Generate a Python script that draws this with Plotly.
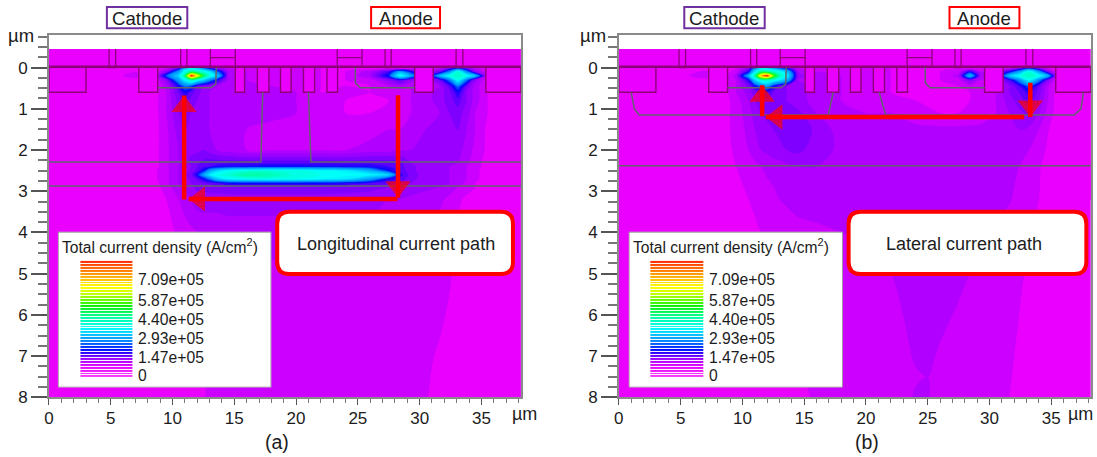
import plotly.graph_objects as go

W, H = 1097, 457

# ---- device geometry in micrometres
trenches = [(0, 3.0), (7.27, 8.8), (15.08, 15.83), (16.87, 17.8), (18.74, 19.6),
            (20.6, 21.5), (22.5, 23.36), (29.6, 31.1), (35.36, 38.2)]
contacts = [(4.87, 5.4), (10.66, 11.16), (27.2, 27.7), (32.95, 33.5)]
plates = [(13.06, 15.08), (23.33, 25.34)]
junction_x_common = [[8.8, 13.1, 13.5, 13.55], [24.8, 24.8, 25.2, 29.6]]
junction_y_common = [[0.49, 0.49, 0.4, 0.0], [0.0, 0.37, 0.49, 0.49]]
junction_x_a = [[17.3, 17.15, 0], [21.0, 21.2, 38.2], [0, 38.2]]
junction_y_a = [[0.6, 2.29, 2.29], [0.6, 2.29, 2.29], [2.87, 2.87]]
junction_x_b = [[1.0, 1.25, 1.65, 16.95, 17.35], [21.06, 21.6, 36.85, 37.4, 37.6], [0, 38.2]]
junction_y_b = [[0.6, 1.0, 1.15, 1.15, 0.6], [0.6, 1.15, 1.15, 1.0, 0.6], [2.38, 2.38]]

# ---- total current density, units of 1e5 A/cm2
xs_a = [0, 4, 7, 8.5, 9.5, 10.5, 11, 11.5, 12, 12.5, 13, 13.6, 14.5, 16, 18, 20, 22, 24, 26, 27.5,
        28.4, 29.3, 30.5, 31.6, 32.4, 33.1, 33.8, 34.5, 35.5, 38.2]
ys_a = [-0.45, -0.02, 0.02, 0.1, 0.2, 0.3, 0.45, 0.6, 0.8, 1.1, 1.5, 2.0, 2.3, 2.4, 2.5, 2.6, 2.7, 2.8, 2.9,
        3.2, 4, 5, 6, 7, 8]
z_a = [
 [0]*30,
 [0]*30,
 [0,0,0,0,.3,1.2,3.0,3.4,3,2.2,1.5,.8,.4,.3,.3,.3,.2,.1,.1,.2,.2,.2,.3,.4,1.0,1.7,1.0,.4,.1,0],
 [0,0,.2,.1,.8,2.4,3.6,4.5,4.2,3.8,3.2,2,.6,.4,.3,.3,.2,.2,.5,1.2,2.5,1.5,.5,1.0,2.2,3.8,2.2,.8,.2,0],
 [0,0,.3,.1,1.8,3.0,4.6,8.5,7,5,3.8,3.0,.6,.4,.3,.4,.2,.2,.6,1.6,3.6,2.5,.6,2.6,3.6,4.0,3.6,2.8,.2,0],
 [0,0,.1,.1,.8,2.4,3.4,4.2,3.6,3,2.2,1.4,.6,.4,.3,.3,.2,.2,.3,.8,1.2,.7,.5,1.0,2.0,3.6,2.0,.7,.2,0],
 [0,0,0,.15,.5,1.4,2,1.8,1,.8,.7,.6,.5,.5,.4,.3,.2,.2,.2,.4,.5,.4,.5,.6,1.1,2,1,.5,.2,0],
 [0,0,0,.1,.4,1,1.4,1.1,.9,.7,.6,.6,.5,.6,.5,.4,.2,.3,.2,.3,.3,.4,.5,.7,.9,1.4,.8,.5,.2,0],
 [0,0,0,.1,.4,.9,1.1,.9,.8,.7,.6,.6,.5,.6,.5,.4,.3,.2,.2,.2,.3,.4,.5,.7,.9,1.1,.8,.5,.2,0],
 [0,0,0,.1,.4,.8,.9,.8,.7,.7,.6,.6,.5,.5,.5,.4,.3,.2,.2,.3,.3,.4,.5,.6,.8,.9,.7,.4,.2,0],
 [0,0,0,.1,.35,.7,.8,.8,.7,.7,.6,.5,.5,.4,.3,.3,.3,.3,.3,.4,.4,.5,.6,.7,.8,.8,.6,.4,.15,0],
 [0,0,0,.1,.35,.6,.7,.75,.75,.8,.7,.6,.5,.4,.4,.4,.4,.4,.5,.5,.6,.6,.7,.8,.8,.7,.5,.35,.15,0],
 [0,0,0,.1,.35,.6,.75,.85,.95,1.05,1.1,1.1,1.1,1.1,1.1,1.1,1.1,1.1,1.1,1.1,1.05,.8,.7,.7,.65,.6,.45,.3,.1,0],
 [0,0,0,.1,.35,.6,.7,.8,1,1.1,1.2,1.3,1.4,1.45,1.5,1.5,1.45,1.4,1.35,1.2,1.1,.85,.7,.65,.6,.55,.4,.3,.1,0],
 [0,0,.05,.15,.35,.6,.7,.85,1.1,1.5,2.4,3.0,3.5,3.7,3.8,3.7,3.5,3.3,2.6,1.5,1.15,.85,.7,.65,.6,.5,.4,.25,.1,0],
 [0,0,.05,.15,.35,.6,.75,.95,1.5,2.4,3.2,3.7,3.9,4.4,4.2,3.7,3.6,3.5,3.4,3.0,1.3,.9,.7,.65,.6,.5,.4,.25,.1,0],
 [0,0,.05,.15,.35,.6,.7,.85,1.05,1.45,2.0,2.9,3.4,3.6,3.7,3.6,3.4,3.2,2.4,1.4,1.15,.85,.7,.65,.6,.5,.4,.25,.1,0],
 [0,0,0,.1,.35,.6,.7,.8,.9,1.0,1.05,1.2,1.45,1.5,1.5,1.5,1.5,1.4,1.2,1.1,1.0,.8,.7,.65,.6,.5,.35,.2,.1,0],
 [0,0,0,.1,.3,.55,.65,.75,.85,.85,.9,.9,.95,.95,.95,.95,.95,.9,.85,.8,.8,.7,.65,.6,.5,.4,.3,.2,.1,0],
 [0,0,0,.05,.2,.4,.5,.6,.7,.7,.7,.7,.7,.7,.7,.7,.7,.7,.7,.6,.6,.55,.5,.45,.35,.25,.15,.1,0,0],
 [0,0,0,0,.1,.25,.3,.35,.4,.45,.45,.45,.5,.5,.5,.5,.5,.5,.5,.45,.4,.4,.35,.3,.22,.15,.1,.05,0,0],
 [0,0,0,0,.05,.1,.12,.15,.18,.2,.25,.3,.3,.35,.35,.35,.35,.35,.35,.33,.33,.3,.3,.25,.22,.15,.05,0,0,0],
 [0,0,0,0,.05,.08,.1,.12,.15,.19,.22,.25,.28,.3,.32,.33,.33,.33,.33,.31,.3,.28,.26,.23,.18,.1,.05,0,0,0],
 [0,0,0,0,.04,.06,.08,.1,.14,.18,.22,.24,.27,.29,.3,.31,.31,.31,.31,.29,.28,.26,.23,.18,.12,.08,.05,0,0,0],
 [0,0,0,0,.03,.05,.08,.1,.14,.19,.22,.24,.26,.28,.3,.3,.3,.3,.3,.28,.27,.25,.21,.15,.1,.08,.05,.03,0,0],
]

xs_b = [0, 4, 7, 8.5, 9.5, 10.5, 11, 11.5, 12, 12.5, 13, 13.6, 14.5, 16, 18, 20, 22, 24, 25, 26, 27.5,
        28.4, 29.3, 30.5, 31.6, 32.4, 33.2, 34, 34.8, 35.5, 38.2]
ys_b = [-0.45, -0.02, 0.02, 0.1, 0.2, 0.3, 0.45, 0.6, 0.8, 1.1, 1.5, 2.0, 2.4, 3.2, 4, 5, 6, 7, 7.5, 8]
z_b = [
 [0]*31,
 [0]*31,
 [0,0,0,0,.2,.8,2.4,3.2,3.2,2.6,2,1.4,.4,.3,.3,.3,.2,.1,.1,.1,.2,.2,.2,.2,.4,.9,1.8,.9,.2,.1,0],
 [0,0,.25,.1,.3,1.4,3.2,4.5,4.4,4,3.6,2.8,.6,.4,.3,.3,.2,.2,.1,.2,.3,1.4,.4,.4,1.4,2.4,3.8,2.4,.8,.1,0],
 [0,0,.35,.1,.5,2.6,4.2,7.5,8.5,6,4.2,3.4,.7,.5,.4,.4,.2,.2,.2,.2,.5,2.8,.6,.5,2.8,3.6,4.1,3.6,2.4,.2,0],
 [0,0,.1,.1,.4,1.4,3.0,3.9,4,3.7,3.3,2.6,.6,.5,.4,.3,.2,.2,.1,.2,.3,.9,.4,.4,1.2,2.2,3.5,2.2,.8,.1,0],
 [0,0,0,.1,.4,.9,1.4,2,2.4,1.5,1,.8,.7,.5,.4,.3,.2,.15,.1,.15,.2,.3,.3,.4,.8,1.2,1.9,1.0,.4,.1,0],
 [0,0,0,.1,.4,.7,.9,1.1,1.2,1,.9,.8,.7,.5,.4,.3,.2,.15,.1,.1,.15,.2,.3,.4,.8,1.0,1.3,.9,.4,.1,0],
 [0,0,0,.1,.3,.6,.8,.9,.95,.9,.85,.8,.7,.5,.4,.35,.3,.2,.15,.1,.15,.2,.3,.4,.7,.9,1.1,.8,.35,.1,0],
 [0,0,0,.1,.3,.5,.7,.8,.85,.85,.85,.85,.85,.6,.45,.4,.4,.3,.25,.2,.2,.25,.3,.4,.6,.75,.85,.6,.3,.1,0],
 [0,0,0,.1,.3,.45,.6,.7,.75,.8,.85,.9,.95,.75,.5,.45,.45,.45,.45,.45,.45,.45,.45,.5,.55,.6,.55,.4,.2,.05,0],
 [0,0,0,.1,.25,.4,.5,.6,.65,.7,.75,.8,.85,.7,.55,.5,.5,.5,.5,.5,.5,.5,.5,.5,.5,.45,.4,.3,.15,.05,0],
 [0,0,0,.05,.2,.3,.35,.4,.45,.5,.5,.55,.6,.6,.55,.55,.55,.55,.55,.55,.55,.55,.5,.5,.48,.4,.3,.22,.12,.05,0],
 [0,0,0,0,.1,.2,.25,.28,.3,.33,.4,.43,.48,.52,.55,.58,.58,.58,.58,.55,.55,.5,.5,.47,.42,.33,.26,.2,.1,.05,0],
 [0,0,0,0,.05,.12,.15,.2,.22,.25,.28,.3,.33,.35,.4,.43,.46,.5,.52,.52,.5,.46,.44,.36,.3,.26,.21,.15,.05,0,0],
 [0,0,0,0,0,.05,.08,.1,.12,.15,.18,.22,.25,.28,.3,.34,.4,.48,.5,.48,.44,.4,.36,.3,.26,.22,.18,.1,.05,0,0],
 [0,0,0,0,0,.03,.05,.08,.1,.12,.15,.18,.22,.25,.28,.31,.36,.44,.46,.44,.38,.35,.31,.27,.24,.2,.15,.08,.03,0,0],
 [0,0,0,0,0,.02,.04,.06,.08,.1,.12,.15,.2,.23,.26,.3,.34,.41,.43,.38,.34,.31,.28,.25,.22,.18,.13,.07,.03,0,0],
 [0,0,0,0,0,.02,.03,.05,.07,.09,.11,.14,.19,.22,.25,.28,.33,.39,.4,.37,.33,.3,.27,.24,.21,.17,.12,.06,.03,0,0],
 [0,0,0,0,0,.01,.02,.04,.06,.08,.1,.13,.18,.21,.24,.27,.33,.41,.41,.35,.32,.29,.26,.23,.2,.15,.1,.05,.02,0,0],
]

# ---- colour tables
palette = [[0, "#E900FF"], [.02, "#E900FF"], [.035, "#CC00FF"], [.06, "#B000FF"], [.085, "#9800FF"],
           [.11, "#7C00FF"], [.14, "#5000FF"], [.175, "#0000FF"], [.24, "#0080FF"], [.34, "#00C8FF"],
           [.41, "#00FFFF"], [.52, "#00FFA0"], [.60, "#00FF40"], [.68, "#40FF00"], [.76, "#C0FF00"],
           [.83, "#FFFF00"], [.90, "#FFA000"], [1, "#FF1000"]]
legend_palette = [[0, "#F840FF"], [.07, "#EE10FF"], [.12, "#D000FF"], [.17, "#9000FF"], [.23, "#0000FF"], [.32, "#0090FF"],
                  [.42, "#00FFFF"], [.52, "#00FFA0"], [.61, "#00F000"], [.70, "#B0FF00"], [.77, "#FFFF00"],
                  [.88, "#FFA000"], [1, "#FF2000"]]
legend_edges = [0.0, 0.2, 0.4, 0.6, 0.8, 1.0, 1.2, 1.4, 1.6, 1.8, 2.0, 2.2, 2.4, 2.6, 2.8, 3.0, 3.2, 3.4, 3.6, 3.8,
                4.0, 4.2, 4.4, 4.6, 4.8, 5.0, 5.2, 5.4, 5.6, 5.8, 6.0, 6.2, 6.4, 6.6, 6.8, 7.0, 7.2, 7.4, 7.6, 7.8,
                8.0]
legend_mid = [0.1, 0.3, 0.5, 0.7, 0.9, 1.1, 1.3, 1.5, 1.7, 1.9, 2.1, 2.3, 2.5, 2.7, 2.9, 3.1, 3.3, 3.5, 3.7, 3.9,
              4.1, 4.3, 4.5, 4.7, 4.9, 5.1, 5.3, 5.5, 5.7, 5.9, 6.1, 6.3, 6.5, 6.7, 6.9, 7.1, 7.3, 7.5, 7.7, 7.9]
legend_labels = ["7.09e+05", "5.87e+05", "4.40e+05", "2.93e+05", "1.47e+05", "0"]

# ---- layout numbers (pixels)
DARK, GREY, TXT = "#8E0078", "#62626F", "#1C1C1C"
FONT = "Liberation Sans"
P = {
 "a": dict(x0=48.5, x1=521, ax="x", ay="y", lx=(57.5, 271), sx=(80, 132),
           cath=(106.5, 187), anode=(371, 440), box=(277, 513), msg="Longitudinal current path", msgx=396,
           cap="(a)", capx=277, xs=xs_a, ys=ys_a, z=z_a, muy=36, mux=(510, "left"),
           jx=junction_x_a, jy=junction_y_a,
           arrows=[([10.94, 10.94], [3.2, 0.68]), ([28.2, 11.3], [3.19, 3.19]), ([28.25, 28.25], [0.67, 3.16])]),
 "b": dict(x0=619, x1=1091.5, ax="x2", ay="y2", lx=(629, 843), sx=(650.5, 703.5),
           cath=(684.5, 765), anode=(950, 1020), box=(849, 1087), msg="Lateral current path", msgx=965,
           cap="(b)", capx=867, xs=xs_b, ys=ys_b, z=z_b, muy=608, mux=(1096, "right"),
           jx=junction_x_b, jy=junction_y_b,
           arrows=[([11.6, 11.6], [1.18, 0.43]), ([32.8, 11.9], [1.2, 1.2]), ([33.3, 33.3], [0.37, 1.2])]),
}
PY0, PY1 = 36, 397
LY0, LY1 = 232, 387
SY1 = 378
STRIPE = 2.925  # picture pixels per legend stripe
label_py = [280, 300.5, 319.5, 338, 357, 375]


def fx(v):
    return ((v - 4.5) / 0.9965) / W


def fy(v):
    return 1 - ((v - 0.9) / 0.975) / H


fig = go.Figure()
shapes, annos = [], []
layout_axes = {}


def text(px, py, s, size=14, anchor="left", color=TXT):
    annos.append(dict(x=fx(px), y=fy(py), xref="paper", yref="paper", text=s, showarrow=False,
                      xanchor=anchor, yanchor="middle", font=dict(size=size, color=color, family=FONT)))


def rect(px0, px1, py0, py1, line, width, fill="rgba(0,0,0,0)"):
    shapes.append(dict(type="rect", xref="paper", yref="paper", x0=fx(px0), x1=fx(px1), y0=fy(py0), y1=fy(py1),
                       line=dict(color=line, width=width), fillcolor=fill, layer="above"))


for i, (key, p) in enumerate(P.items()):
    n = i + 1
    sfx = "" if n == 1 else str(n)
    # field
    fig.add_trace(go.Contour(x=p["xs"], y=p["ys"], z=p["z"], xaxis=p["ax"], yaxis=p["ay"], colorscale=palette,
                             zmin=0, zmax=8.6, autocontour=False, showscale=False, hoverinfo="skip",
                             contours=dict(coloring="fill", start=0, end=8.4, size=0.2, showlines=False),
                             line=dict(width=0)))
    # filled oxide blocks
    tx, ty = [], []
    for a, b in trenches:
        tx += [a, a, b, b, None]
        ty += [0, 0.6, 0.6, 0, None]
    fig.add_trace(go.Scatter(x=tx, y=ty, xaxis=p["ax"], yaxis=p["ay"], mode="lines", fill="toself",
                             fillcolor="#E900FF", line=dict(color=DARK, width=1.4), hoverinfo="skip"))
    ox, oy = [], []
    for a, b in contacts:
        ox += [a, a, b, b, None]
        oy += [-0.45, 0, 0, -0.45, None]
    for a, b in plates:
        ox += [a, a, None, b, b, None, a, b, None]
        oy += [-0.45, 0, None, -0.45, 0, None, -0.24, -0.24, None]
    fig.add_trace(go.Scatter(x=ox, y=oy, xaxis=p["ax"], yaxis=p["ay"], mode="lines",
                             line=dict(color=DARK, width=1.3), hoverinfo="skip"))
    fig.add_trace(go.Scatter(x=[0, 38.2], y=[-0.02, -0.02], xaxis=p["ax"], yaxis=p["ay"], mode="lines",
                             line=dict(color=DARK, width=2.6), hoverinfo="skip"))
    # junction lines
    gx, gy = [], []
    for a, b in zip(junction_x_common + p["jx"], junction_y_common + p["jy"]):
        gx += a + [None]
        gy += b + [None]
    fig.add_trace(go.Scatter(x=gx, y=gy, xaxis=p["ax"], yaxis=p["ay"], mode="lines",
                             line=dict(color=GREY, width=1.5), hoverinfo="skip"))
    # arrows
    for ax_, ay_ in p["arrows"]:
        fig.add_trace(go.Scatter(x=ax_, y=ay_, xaxis=p["ax"], yaxis=p["ay"], mode="lines",
                                 line=dict(color="#FF0000", width=4.5), hoverinfo="skip"))
        fig.add_trace(go.Scatter(x=ax_, y=ay_, xaxis=p["ax"], yaxis=p["ay"], mode="markers", hoverinfo="skip",
                                 marker=dict(symbol=["circle", "triangle-up"], size=[0, 22], color="#FF0000",
                                             angleref="previous", standoff=11, line=dict(width=0))))

    layout_axes["xaxis" + sfx] = dict(
        domain=[fx(p["x0"]), fx(p["x1"])], range=[0, 38.2], anchor=p["ay"], showgrid=False, zeroline=False,
        showline=True, mirror=True, linecolor="#8A8A8A", linewidth=1.5, ticks="outside", ticklen=6,
        tickcolor="#555555", tickvals=[0, 5, 10, 15, 20, 25, 30, 35], ticklabelstandoff=-2,
        minor=dict(ticks="outside", ticklen=4, dtick=1, tick0=0, tickcolor="#777777", showgrid=False),
        tickfont=dict(size=17, family=FONT, color=TXT))
    layout_axes["yaxis" + sfx] = dict(
        domain=[fy(PY1), fy(PY0)], range=[8, -0.785], anchor=p["ax"], showgrid=False, zeroline=False,
        showline=True, mirror=True, linecolor="#8A8A8A", linewidth=1.5, ticks="outside", ticklen=16, tickwidth=1.6,
        tickcolor="#555555", tickvals=[0, 1, 2, 3, 4, 5, 6, 7, 8],
        minor=dict(ticks="outside", ticklen=9, dtick=0.25, tick0=0, tickcolor="#777777", showgrid=False),
        tickfont=dict(size=17, family=FONT, color=TXT))

    # legend panel: its own axes, so the white box sits over the field
    lx, ly = str(n + 2), str(n + 2)
    sc = 0.2 / STRIPE
    layout_axes["xaxis" + lx] = dict(domain=[fx(p["lx"][0]), fx(p["lx"][1])], range=[p["lx"][0], p["lx"][1]],
                                     anchor="y" + ly, visible=False, fixedrange=True)
    layout_axes["yaxis" + ly] = dict(domain=[fy(LY1), fy(LY0)], range=[-(LY1 - SY1) * sc, (SY1 - LY0) * sc],
                                     anchor="x" + lx, visible=False, fixedrange=True)
    shapes.append(dict(type="rect", xref="x" + lx, yref="y" + ly, x0=p["lx"][0], x1=p["lx"][1],
                       y0=-(LY1 - SY1) * sc, y1=(SY1 - LY0) * sc, layer="below",
                       fillcolor="white", line=dict(color="#707070", width=1.2)))
    fig.add_trace(go.Heatmap(x=list(p["sx"]), y=legend_edges, z=[[v] for v in legend_mid], xaxis="x" + lx,
                             yaxis="y" + ly, colorscale=legend_palette, zmin=0, zmax=8.0, showscale=False, ygap=1,
                             hoverinfo="skip"))
    text(p["lx"][0] + 2, 246, "Total current density (A/cm<sup>2</sup>)", size=15.6)
    for lab, py in zip(legend_labels, label_py):
        text(p["sx"][1] + 4, py, lab, size=15.7)

    # boxes
    bx0, bx1 = p["box"]
    by0, by1, r = 212, 274, 12
    path = (f"M {fx(bx0 + r)} {fy(by0)} L {fx(bx1 - r)} {fy(by0)} Q {fx(bx1)} {fy(by0)} {fx(bx1)} {fy(by0 + r)} "
            f"L {fx(bx1)} {fy(by1 - r)} Q {fx(bx1)} {fy(by1)} {fx(bx1 - r)} {fy(by1)} "
            f"L {fx(bx0 + r)} {fy(by1)} Q {fx(bx0)} {fy(by1)} {fx(bx0)} {fy(by1 - r)} "
            f"L {fx(bx0)} {fy(by0 + r)} Q {fx(bx0)} {fy(by0)} {fx(bx0 + r)} {fy(by0)} Z")
    shapes.append(dict(type="path", xref="paper", yref="paper", path=path, fillcolor="white",
                       line=dict(color="#FF0000", width=4), layer="above"))
    text(p["msgx"], 244, p["msg"], size=18, anchor="center")
    rect(p["cath"][0], p["cath"][1], 8, 29, "#7030A0", 2)
    rect(p["anode"][0], p["anode"][1], 8, 29, "#FF0000", 2)
    text((p["cath"][0] + p["cath"][1]) / 2, 19, "Cathode", size=18.6, anchor="center")
    text((p["anode"][0] + p["anode"][1]) / 2, 19, "Anode", size=18.6, anchor="center")
    text(p["capx"], 441, p["cap"], size=19.5, anchor="center")
    text(p["muy"], 36, "µm", size=18.5, anchor="right")
    text(p["mux"][0], 414, "µm", size=18, anchor=p["mux"][1])

fig.update_layout(width=W, height=H, margin=dict(l=0, r=0, t=0, b=0), autosize=False, showlegend=False,
                  paper_bgcolor="white", plot_bgcolor="white", shapes=shapes, annotations=annos, **layout_axes)
fig.write_html("out.html", config=dict(displayModeBar=False),
               post_script="document.body.style.margin='0';document.documentElement.style.overflow='hidden';")
